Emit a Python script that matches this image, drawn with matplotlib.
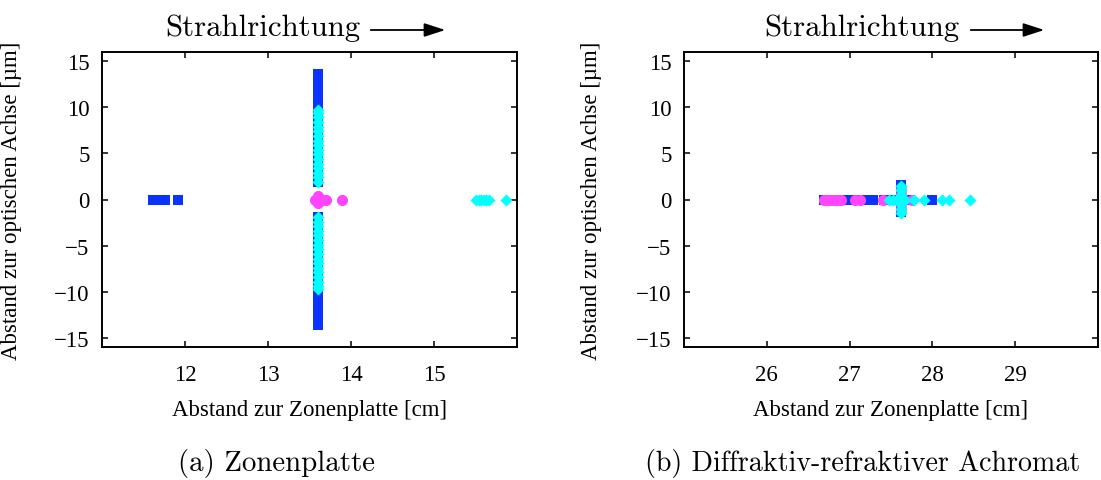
import numpy as np
import matplotlib
matplotlib.use("Agg")
import matplotlib.pyplot as plt

# ---- Panel (a): Zonenplatte ----
a_blue_x = [13.6] * 50 + [11.62, 11.66, 11.70, 11.74, 11.76, 11.91]
a_blue_y = [1.9, 2.4, 2.9, 3.4, 3.9, 4.4, 4.9, 5.4, 5.9, 6.4, 6.9, 7.4, 7.9,
            8.4, 8.9, 9.4, 9.9, 10.4, 10.9, 11.4, 11.9, 12.4, 12.9, 13.4, 13.6,
            -1.9, -2.4, -2.9, -3.4, -3.9, -4.4, -4.9, -5.4, -5.9, -6.4, -6.9, -7.4, -7.9,
            -8.4, -8.9, -9.4, -9.9, -10.4, -10.9, -11.4, -11.9, -12.4, -12.9, -13.4, -13.6,
            0, 0, 0, 0, 0, 0]
a_mag_x = [13.57, 13.60, 13.60, 13.60, 13.63, 13.66, 13.70, 13.89]
a_mag_y = [0, 0.35, -0.35, 0, 0, 0, 0, 0]
a_cyan_x = [13.6] * 34 + [15.51, 15.54, 15.57, 15.60, 15.63, 15.66, 15.87]
a_cyan_y = [1.9, 2.4, 2.9, 3.4, 3.9, 4.4, 4.9, 5.4, 5.9, 6.4, 6.9, 7.4, 7.9,
            8.4, 8.9, 9.4, 9.7,
            -1.9, -2.4, -2.9, -3.4, -3.9, -4.4, -4.9, -5.4, -5.9, -6.4, -6.9, -7.4, -7.9,
            -8.4, -8.9, -9.4, -9.7,
            0, 0, 0, 0, 0, 0, 0]

# ---- Panel (b): Diffraktiv-refraktiver Achromat ----
b_blue_x = [26.69, 26.75, 26.81, 26.87, 26.93, 26.99, 27.05, 27.11, 27.17, 27.23, 27.28,
            27.41, 27.47, 27.53, 27.59, 27.65, 27.70, 28.00,
            27.62, 27.62, 27.62, 27.62, 27.62, 27.62]
b_blue_y = [0] * 18 + [1.6, 1.1, 0.6, -0.6, -1.1, -1.4]
b_mag_x = [26.69, 26.73, 26.77, 26.81, 26.85, 26.90, 27.06, 27.12, 27.40,
           27.62, 27.62, 27.62, 27.62, 27.75]
b_mag_y = [0, 0, 0, 0, 0, 0, 0, 0, 0, 1.0, 0.5, -0.5, -1.0, 0]
b_cyan_x = [27.47, 27.52, 27.57, 27.62, 27.67, 27.78, 27.90, 28.11, 28.20, 28.45,
            27.62, 27.62, 27.62, 27.62, 27.62, 27.62]
b_cyan_y = [0, 0, 0, 0, 0, 0, 0, 0, 0, 0, 1.5, 1.0, 0.5, -0.5, -1.0, -1.5]

y_ticks = [-15, -10, -5, 0, 5, 10, 15]
a_xticks = [12, 13, 14, 15]
b_xticks = [26, 27, 28, 29]

BLUE = "#0b33ff"
MAGENTA = "#ff45ff"
CYAN = "#00ffff"

TICK_FONT = "Liberation Serif"
CM_FONT = "cmr10"
LABEL_SIZE = 16.5
TICK_SIZE = 16.5

fig = plt.figure(figsize=(11.01, 4.81), dpi=100)
W, H = 1101.0, 481.0

def px_rect(x0, x1, y0, y1):
    return [x0 / W, 1 - y1 / H, (x1 - x0) / W, (y1 - y0) / H]

ax_a = fig.add_axes(px_rect(102, 517, 53, 348))
ax_b = fig.add_axes(px_rect(684, 1098, 53, 348))

def style(ax, xlim, xticks):
    ax.set_xlim(*xlim)
    ax.set_ylim(-16, 16)
    ax.set_xticks(xticks)
    ax.set_yticks(y_ticks)
    ax.set_yticklabels(["\u2212" + str(-t) if t < 0 else str(t) for t in y_ticks])
    ax.tick_params(direction="in", length=4, width=1.1, top=True, right=True,
                   labelsize=TICK_SIZE)
    ax.tick_params(axis="x", pad=12)
    ax.tick_params(axis="y", pad=9)
    for lab in ax.get_xticklabels() + ax.get_yticklabels():
        lab.set_fontfamily(TICK_FONT)
    for sp in ax.spines.values():
        sp.set_linewidth(1.4)
    ax.set_xlabel("Abstand zur Zonenplatte [cm]", fontfamily=TICK_FONT,
                  fontsize=LABEL_SIZE, labelpad=10)

def draw(ax, bx, by, mx, my, cx, cy):
    ax.scatter(bx, by, marker="s", s=46, c=BLUE, linewidths=0, zorder=3)
    ax.scatter(mx, my, marker="o", s=64, c=MAGENTA, linewidths=0, zorder=4)
    ax.scatter(cx, cy, marker="D", s=38, c=CYAN, linewidths=0, zorder=5)

draw(ax_a, a_blue_x, a_blue_y, a_mag_x, a_mag_y, a_cyan_x, a_cyan_y)
draw(ax_b, b_blue_x, b_blue_y, b_mag_x, b_mag_y, b_cyan_x, b_cyan_y)
style(ax_a, (11, 16), a_xticks)
style(ax_b, (25, 30), b_xticks)

# rotated y labels
for xc in (12, 592):
    fig.text(xc / W, 1 - 201 / H, "Abstand zur optischen Achse [\u00b5m]",
             rotation=90, ha="center", va="center", fontfamily=TICK_FONT,
             fontsize=LABEL_SIZE)

# beam direction headers with arrows
for x_text, x_a0, x_a1 in ((165, 368, 448), (764, 968, 1047)):
    fig.text(x_text / W, 1 - 36 / H, "Strahlrichtung", fontfamily=CM_FONT,
             fontsize=22.2, ha="left", va="baseline")
    fig.add_artist(matplotlib.patches.FancyArrowPatch(
        (x_a0 / W, 1 - 31 / H), (x_a1 / W, 1 - 31 / H),
        transform=fig.transFigure, arrowstyle="-|>,head_length=8,head_width=2.6",
        mutation_scale=1.6, lw=1.3, color="black"))

# sub-captions
fig.text(178 / W, 1 - 471 / H, "(a) Zonenplatte", fontfamily=CM_FONT,
         fontsize=20.8, ha="left", va="baseline")
fig.text(645 / W, 1 - 471 / H, "(b) Diffraktiv-refraktiver Achromat",
         fontfamily=CM_FONT, fontsize=20.15, ha="left", va="baseline")

fig.savefig("out.png", dpi=100)
